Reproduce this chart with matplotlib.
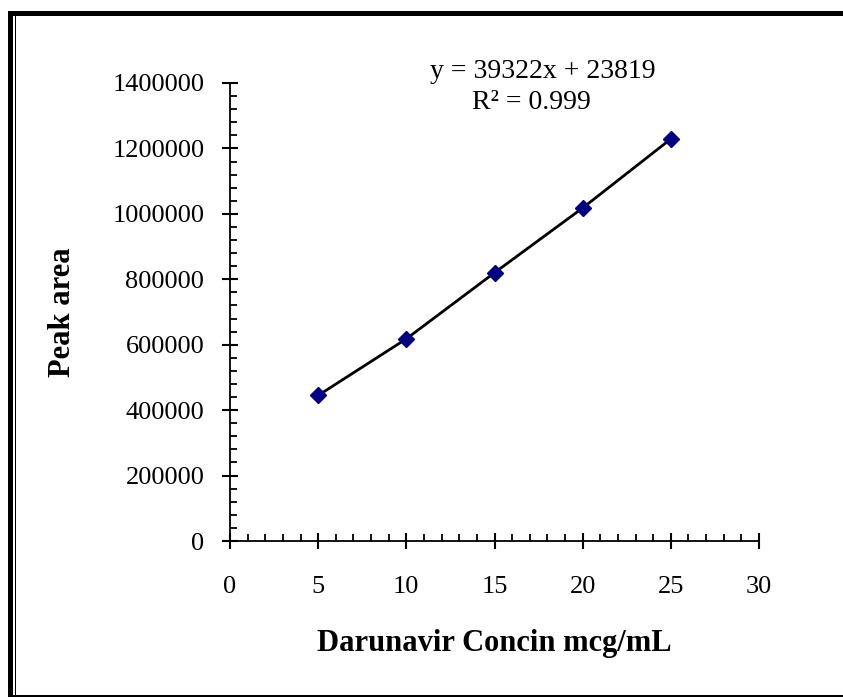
import matplotlib
matplotlib.use("Agg")
import matplotlib.pyplot as plt
from matplotlib.patches import Rectangle
from matplotlib.ticker import MultipleLocator

conc = [5, 10, 15, 20, 25]
peak_area = [445000, 618000, 820000, 1018000, 1229000]
x_ticks = [0, 5, 10, 15, 20, 25, 30]
y_ticks = [0, 200000, 400000, 600000, 800000, 1000000, 1200000, 1400000]
equation = "y = 39322x + 23819"
r2_text = "R² = 0.999"

W, H = 843, 697
fig = plt.figure(figsize=(W / 100, H / 100), dpi=100)
fig.patch.set_facecolor("white")

def px_rect(x0, y0, x1, y1):
    # pixel coords from top-left
    return Rectangle((x0 / W, 1 - y1 / H), (x1 - x0) / W, (y1 - y0) / H,
                     transform=fig.transFigure, facecolor="black",
                     edgecolor="none", zorder=10)

fig.add_artist(px_rect(8, 11, 843, 15.5))
fig.add_artist(px_rect(8, 11, 12.7, 697))
fig.add_artist(px_rect(14.5, 15.5, 16.3, 697))
fig.add_artist(px_rect(8, 694.5, 843, 697))

ax = fig.add_axes([230 / W, 1 - 541 / H, (759 - 230) / W, (541 - 83) / H])
ax.plot(conc, peak_area, color="black", lw=2, zorder=2)
ax.plot(conc, peak_area, linestyle="none", marker="D", markersize=8,
        color="#000080", zorder=3)

ax.set_xlim(0, 30)
ax.set_ylim(0, 1400000)
ax.set_xticks(x_ticks)
ax.set_yticks(y_ticks)
ax.set_xticklabels([str(v) for v in x_ticks])
ax.set_yticklabels([str(v) for v in y_ticks])
ax.xaxis.set_minor_locator(MultipleLocator(1))
ax.yaxis.set_minor_locator(MultipleLocator(40000))

for s in ["top", "right"]:
    ax.spines[s].set_visible(False)
for s in ["left", "bottom"]:
    ax.spines[s].set_linewidth(1.3)

serif = ["Liberation Serif", "DejaVu Serif"]
ax.tick_params(which="major", direction="inout", length=11, width=1.5,
               labelsize=19)
ax.tick_params(which="minor", direction="in", length=5, width=1.3)
ax.tick_params(axis="y", which="major", pad=13)
ax.tick_params(axis="x", which="major", pad=20)
for lab in ax.get_xticklabels() + ax.get_yticklabels():
    lab.set_fontfamily(serif)

ax.set_xlabel("Darunavir Concin mcg/mL", fontsize=22, fontweight="bold",
              family=serif, labelpad=22)
ax.set_ylabel("Peak area", fontsize=22, fontweight="bold", family=serif,
              labelpad=25)

ax.text(0.592, 1.026, equation, transform=ax.transAxes, ha="center",
        va="center", fontsize=20, family=serif)
ax.text(0.569, 0.958, r2_text, transform=ax.transAxes, ha="center",
        va="center", fontsize=20, family=serif)

fig.savefig("out.png", dpi=100, facecolor="white")
